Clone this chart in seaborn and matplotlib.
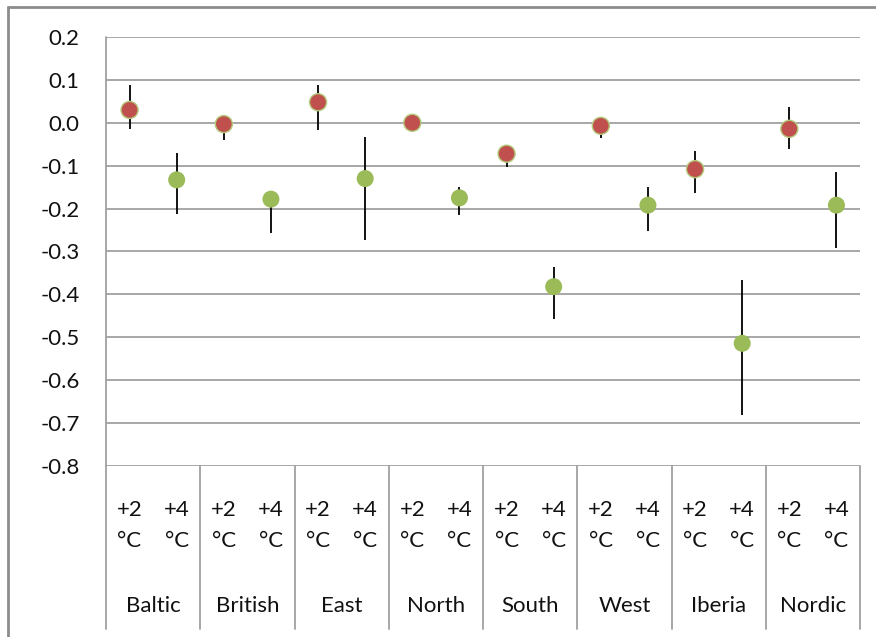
import matplotlib
matplotlib.use("Agg")
import matplotlib.pyplot as plt
import seaborn as sns
import pandas as pd
import numpy as np
from matplotlib.lines import Line2D

regions = ["Baltic", "British", "East", "North", "South", "West", "Iberia", "Nordic"]
scen_top = ["+2", "+4"]
scen_bottom = ["°C", "°C"]

mean_2 = [0.030, -0.003, 0.048, 0.000, -0.072, -0.007, -0.108, -0.014]
low_2 = [-0.015, -0.040, -0.017, -0.020, -0.104, -0.035, -0.164, -0.062]
high_2 = [0.088, 0.005, 0.088, 0.005, -0.062, 0.014, -0.066, 0.037]

mean_4 = [-0.133, -0.178, -0.130, -0.175, -0.382, -0.192, -0.514, -0.192]
low_4 = [-0.213, -0.258, -0.273, -0.215, -0.457, -0.252, -0.682, -0.293]
high_4 = [-0.070, -0.168, -0.033, -0.150, -0.335, -0.150, -0.366, -0.115]

yticks = [0.2, 0.1, 0.0, -0.1, -0.2, -0.3, -0.4, -0.5, -0.6, -0.7, -0.8]
ytick_labels = ["0.2", "0.1", "0.0", "-0.1", "-0.2", "-0.3", "-0.4", "-0.5", "-0.6", "-0.7", "-0.8"]

rows = []
for i, r in enumerate(regions):
    rows.append(dict(pos=2 * i, region=r, scen="+2", mean=mean_2[i], low=low_2[i], high=high_2[i]))
    rows.append(dict(pos=2 * i + 1, region=r, scen="+4", mean=mean_4[i], low=low_4[i], high=high_4[i]))
df = pd.DataFrame(rows)

sns.set_theme(style="white")
plt.rcParams["font.family"] = ["Lato", "DejaVu Sans"]

FS = 16

fig = plt.figure(figsize=(8.76, 6.37), dpi=100)
ax = fig.add_axes([106 / 876, 1 - 466 / 637, (860 - 106) / 876, (466 - 37) / 637])

grid_c = "#A0A0A0"
for y in yticks:
    ax.axhline(y, color=grid_c, lw=1.3, zorder=0)

# error bars
ax.errorbar(df["pos"], df["mean"],
            yerr=[df["mean"] - df["low"], df["high"] - df["mean"]],
            fmt="none", ecolor="black", elinewidth=1.3, capsize=0, zorder=2)

palette = {"+2": "#C0504D", "+4": "#9BBB59"}
sns.scatterplot(data=df, x="pos", y="mean", hue="scen", palette=palette,
                s=150, ax=ax, legend=False, zorder=3, linewidth=0)
# thin greenish edge on red markers
d2 = df[df["scen"] == "+2"]
ax.scatter(d2["pos"], d2["mean"], s=150, facecolor="none", edgecolor="#B3C97A",
           linewidth=1.0, zorder=4)

ax.set_xlim(-0.5, 15.5)
ax.set_ylim(-0.8, 0.2)
ax.set_yticks(yticks)
ax.set_yticklabels(ytick_labels, fontsize=FS, color="#111111")
ax.tick_params(axis="y", length=0, pad=19)
ax.set_xticks([])
ax.set_xlabel("")
ax.set_ylabel("")
for s in ax.spines.values():
    s.set_visible(False)

# left axis line extended down through category table
ax.axvline(-0.5, ymin=-0.38, ymax=1.0, color=grid_c, lw=1.3, clip_on=False)
for i in range(len(regions)):
    ax.axvline(2 * i + 1.5, ymin=-0.38, ymax=0.0, color=grid_c, lw=1.3, clip_on=False)

trans = ax.get_xaxis_transform()
for i, r in enumerate(regions):
    for j in range(2):
        ax.text(2 * i + j, -0.102, scen_top[j], transform=trans, ha="center", va="center",
                fontsize=FS, color="#111111")
        ax.text(2 * i + j, -0.175, scen_bottom[j], transform=trans, ha="center", va="center",
                fontsize=FS, color="#111111")
    ax.text(2 * i + 0.5, -0.326, r, transform=trans, ha="center", va="center",
            fontsize=FS, color="#111111")

# outer chart border (top and left edges visible)
fig.add_artist(Line2D([8 / 876, 1.0], [1 - 7 / 637, 1 - 7 / 637], transform=fig.transFigure,
                      color="#8C8C8C", lw=2))
fig.add_artist(Line2D([8 / 876, 8 / 876], [1 - 7 / 637, 0.0], transform=fig.transFigure,
                      color="#8C8C8C", lw=2))

fig.savefig("out.png", dpi=100)
